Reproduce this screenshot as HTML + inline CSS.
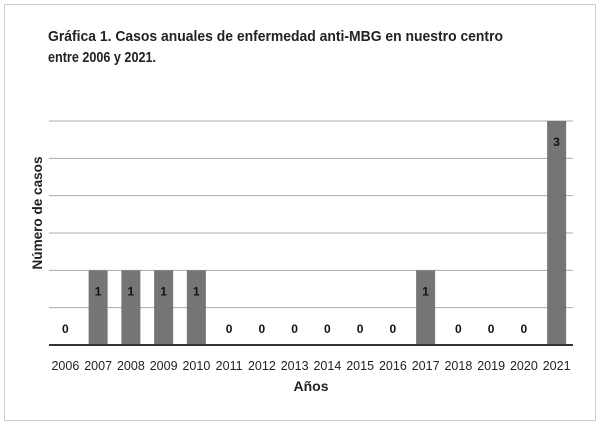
<!DOCTYPE html>
<html><head><meta charset="utf-8"><style>
body{margin:0;background:#fff;font-family:"Liberation Sans",sans-serif}
svg text{font-family:"Liberation Sans",sans-serif}
</style></head><body>
<svg width="600" height="425">
<rect x="4.5" y="4.5" width="591" height="416" fill="#fff" stroke="#ccc"/>
<text x="48" y="41" font-size="15" font-weight="bold" fill="#222" textLength="455" lengthAdjust="spacingAndGlyphs">Gráfica 1. Casos anuales de enfermedad anti-MBG en nuestro centro</text>
<text x="48" y="62" font-size="15" font-weight="bold" fill="#222" textLength="108" lengthAdjust="spacingAndGlyphs">entre 2006 y 2021.</text>
<text transform="translate(42,213) rotate(-90)" text-anchor="middle" font-size="14" font-weight="bold" fill="#222" textLength="113" lengthAdjust="spacingAndGlyphs">Número de casos</text>
<text x="311" y="391" text-anchor="middle" font-size="14" font-weight="bold" fill="#222">Años</text>
<g id="grid"></g><g id="bars"></g><g id="labels"></g>
</svg>
<script>
const years=["2006","2007","2008","2009","2010","2011","2012","2013","2014","2015","2016","2017","2018","2019","2020","2021"];
const cases=[0,1,1,1,1,0,0,0,0,0,0,1,0,0,0,3];
const gridTicks=[0.5,1,1.5,2,2.5,3];
const NS="http://www.w3.org/2000/svg";
const x0=49,x1=573,yb=345,yTop=121,maxV=3;
const bw=(x1-x0)/years.length;
const y=v=>yb-(yb-yTop)*v/maxV;
const xc=i=>x0+bw*(i+0.5);
function mk(t,a,p){const e=document.createElementNS(NS,t);for(const k in a)e.setAttribute(k,a[k]);document.getElementById(p).appendChild(e);return e;}
gridTicks.forEach(v=>{const l=mk('line',{x1:x0,x2:x1,y1:y(v),y2:y(v),stroke:'#aaa','stroke-width':1},'grid');

});
years.forEach((yr,i)=>{
 const v=cases[i];
 if(v>0){const r=mk('rect',{x:xc(i)-9.5,y:y(v),width:19,height:yb-y(v),fill:'#757575'},'bars');
 
 }
 const t=mk('text',{x:xc(i),y:v>0?y(v)+25:yb-12,'text-anchor':'middle','font-size':12,'font-weight':'bold',fill:'#111'},'labels');
 t.textContent=v;
 
 
 const xt=mk('text',{x:xc(i),y:370,'text-anchor':'middle','font-size':12.5,fill:'#222'},'labels');
 xt.textContent=yr;
 
 
});
const b=mk('line',{x1:x0,x2:x1,y1:yb,y2:yb,stroke:'#333','stroke-width':2},'labels');


</script>
</body></html>
